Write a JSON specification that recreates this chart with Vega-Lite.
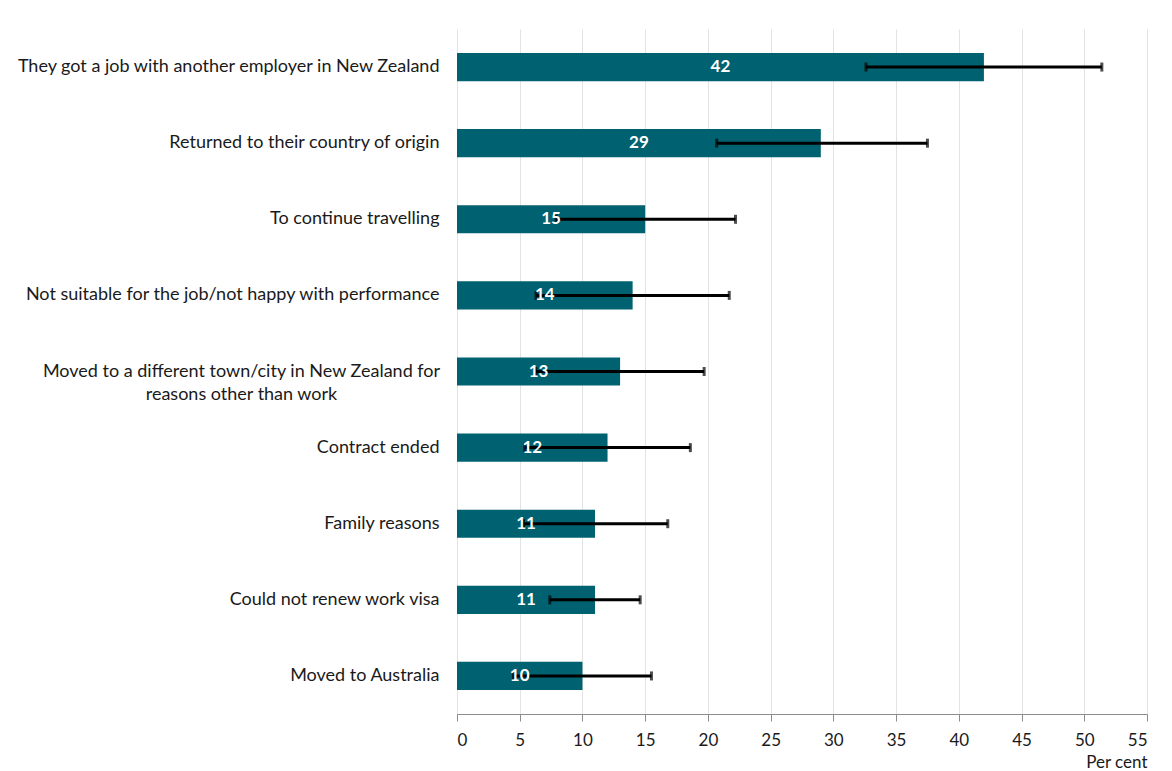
{
  "$schema": "https://vega.github.io/schema/vega-lite/v6.json",
  "width": 690,
  "height": 685,
  "autosize": {"type": "none"},
  "padding": {"left": 457, "top": 29, "right": 25, "bottom": 57},
  "background": "white",
  "config": {
    "font": "Lato",
    "view": {"stroke": null}
  },
  "data": {
    "values": [
      {"reason": "They got a job with another employer in New Zealand", "order": 1, "pct": 42, "low": 32.6, "high": 51.4},
      {"reason": "Returned to their country of origin", "order": 2, "pct": 29, "low": 20.7, "high": 37.5},
      {"reason": "To continue travelling", "order": 3, "pct": 15, "low": 7.9, "high": 22.2},
      {"reason": "Not suitable for the job/not happy with performance", "order": 4, "pct": 14, "low": 6.3, "high": 21.7},
      {"reason": "Moved to a different town/city in New Zealand for reasons other than work", "order": 5, "pct": 13, "low": 6.3, "high": 19.7},
      {"reason": "Contract ended", "order": 6, "pct": 12, "low": 5.4, "high": 18.6},
      {"reason": "Family reasons", "order": 7, "pct": 11, "low": 5.3, "high": 16.8},
      {"reason": "Could not renew work visa", "order": 8, "pct": 11, "low": 7.4, "high": 14.6},
      {"reason": "Moved to Australia", "order": 9, "pct": 10, "low": 4.5, "high": 15.5}
    ]
  },
  "encoding": {
    "y": {
      "field": "reason",
      "type": "nominal",
      "sort": {"field": "order", "order": "ascending"},
      "scale": {"paddingInner": 0.63, "paddingOuter": 0.315},
      "axis": {
        "title": null,
        "domain": false,
        "ticks": false,
        "labelFont": "Lato",
        "labelFontSize": 18,
        "labelColor": "#1a1a1a",
        "labelPadding": {"condition": {"test": "indexof(datum.value, 'Moved to a different') == 0", "value": 216}, "value": 18},
        "labelAlign": {"condition": {"test": "indexof(datum.value, 'Moved to a different') == 0", "value": "center"}, "value": "right"},
        "labelLimit": 500,
        "labelLineHeight": 23,
        "labelExpr": "datum.value == 'Moved to a different town/city in New Zealand for reasons other than work' ? ['Moved to a different town/city in New Zealand for', 'reasons other than work'] : datum.value"
      }
    }
  },
  "layer": [
    {
      "layer": [
        {
          "mark": {"type": "bar", "color": "#006270"},
          "encoding": {
            "x": {
              "field": "pct",
              "type": "quantitative",
              "scale": {"domain": [0, 55], "nice": false},
              "axis": {
                "values": [0, 5, 10, 15, 20, 25, 30, 35, 40, 45, 50, 55],
                "title": "Per cent",
                "titleFont": "Lato",
                "titleFontWeight": "normal",
                "titleFontSize": 17,
                "titleColor": "#1a1a1a",
                "titleAnchor": "end",
                "titleAlign": "right",
                "titleBaseline": "alphabetic",
                "titleY": 53,
                "labelFont": "Lato",
                "labelFontSize": 17,
                "labelColor": "#1a1a1a",
                "labelPadding": 11,
                "domainColor": "#8c8c8c",
                "domainWidth": 1.2,
                "tickColor": "#8c8c8c",
                "tickSize": 7,
                "gridColor": "#e3e3e3",
                "gridWidth": 1
              }
            }
          }
        },
        {
          "mark": {"type": "rule", "color": "black", "strokeWidth": 3},
          "encoding": {
            "x": {"field": "low", "type": "quantitative"},
            "x2": {"field": "high"}
          }
        },
        {
          "mark": {"type": "tick", "color": "black", "thickness": 3, "size": 9},
          "encoding": {
            "x": {"field": "low", "type": "quantitative"}
          }
        },
        {
          "mark": {"type": "tick", "color": "black", "thickness": 3, "size": 9},
          "encoding": {
            "x": {"field": "high", "type": "quantitative"}
          }
        }
      ]
    },
    {
      "mark": {"type": "text", "color": "white", "fontWeight": "bold", "fontSize": 17, "font": "Lato", "baseline": "middle", "align": "center"},
      "encoding": {
        "x": {"field": "pct", "type": "quantitative", "scale": {"domain": [0, 110], "nice": false}, "axis": null},
        "text": {"field": "pct", "type": "quantitative"}
      }
    }
  ],
  "resolve": {"scale": {"x": "independent"}, "axis": {"x": "independent"}}
}
